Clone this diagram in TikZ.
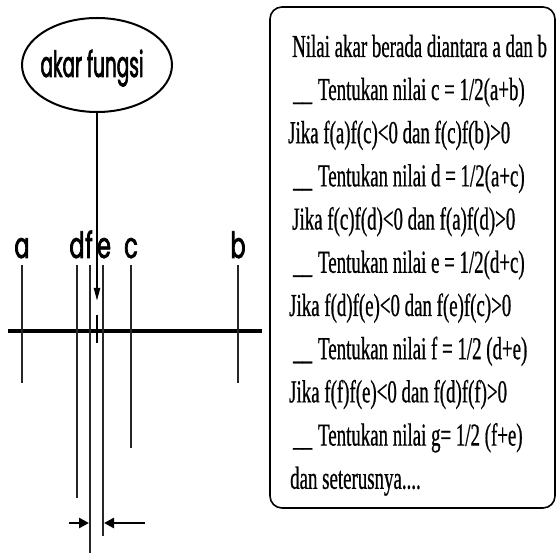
\documentclass[tikz,border=0pt]{standalone}
\usepackage{fontspec}
\usetikzlibrary{arrows.meta,shapes.geometric}
\newfontfamily\boxfont[FakeStretch=0.59,FakeBold=0.6]{Liberation Serif}
\newfontfamily\labfont[FakeStretch=0.62,FakeBold=2]{Poppins}
\begin{document}
\begin{tikzpicture}[x=1pt,y=-1pt,
  lab/.style={inner sep=0pt,anchor=base,font=\labfont\fontsize{36}{36}\selectfont},
  txt/.style={inner sep=0pt,anchor=base west,font=\boxfont\fontsize{32}{32}\selectfont},
  thin line/.style={line width=1.2pt,black!85},
  bigarrow/.style={line width=2.8pt,-{Triangle[length=10pt,width=10pt]}}]
\useasboundingbox (0,0) rectangle (558,553);
% ellipse
\node[draw,ellipse,line width=2pt,minimum width=150,minimum height=94,inner sep=0pt] (root) at (97,65) {};
\node[lab,anchor=base] (roottext) at (92,77) {\resizebox{103pt}{\height}{\labfont\fontsize{36}{36}\selectfont akar fungsi}};
\coordinate (tip) at (97,301);
\draw[line width=2pt,-{Triangle[length=13pt,width=6pt]}] (root.south) -- (tip);
% axis
\coordinate (axL) at (8,331);
\coordinate (axR) at (262,331);
\draw[line width=4pt] (axL) -- (axR);
\coordinate (mk1) at (97,315);
\coordinate (mk2) at (97,343);
\draw[line width=2.6pt] (mk1) -- (mk2);
% labels
\node[lab] (la) at (22,258) {a};
\node[lab] (ld) at (77,258) {d};
\node[lab] (lf) at (89,258) {f};
\node[lab] (le) at (104,258) {e};
\node[lab] (lc) at (131,258) {c};
\node[lab] (lb) at (238,258) {b};
% vertical lines
\coordinate (a1) at (22,265);  \coordinate (a2) at (22,383);
\coordinate (b1) at (238,265); \coordinate (b2) at (238,383);
\coordinate (c1) at (131,265); \coordinate (c2) at (131,448);
\coordinate (d1) at (77,265);  \coordinate (d2) at (77,498);
\coordinate (f1) at (90,265);  \coordinate (f2) at (90,553);
\coordinate (e1) at (103,265); \coordinate (e2) at (103,536);
\draw[thin line] (a1) -- (a2);
\draw[thin line] (b1) -- (b2);
\draw[thin line] (c1) -- (c2);
\draw[thin line] (d1) -- (d2);
\draw[thin line] (f1) -- (f2);
\draw[thin line] (e1) -- (e2);
% bottom arrows
\coordinate (l0) at (69,523);  \coordinate (l1) at (89,523);
\coordinate (r0) at (145,523); \coordinate (r1) at (104,523);
\draw[bigarrow] (l0) -- (l1);
\draw[bigarrow] (r0) -- (r1);
% box
\node[draw,line width=1.6pt,rounded corners=12pt,minimum width=285,minimum height=501,inner sep=0pt] (box) at (412.5,257.5) {};
\node[txt] (t1) at (292,57) {Nilai akar berada diantara a dan b};
\node[txt] (t2) at (293,100) {\_\_\hspace{6pt}Tentukan nilai c = 1/2(a+b)};
\node[txt] (t3) at (288,143.2) {Jika f(a)f(c)<0 dan f(c)f(b)>0};
\node[txt] (t4) at (293,186.4) {\_\_\hspace{6pt}Tentukan nilai d = 1/2(a+c)};
\node[txt] (t5) at (292,229.6) {Jika f(c)f(d)<0 dan f(a)f(d)>0};
\node[txt] (t6) at (293,272.8) {\_\_\hspace{6pt}Tentukan nilai e = 1/2(d+c)};
\node[txt] (t7) at (289,316) {Jika f(d)f(e)<0 dan f(e)f(c)>0};
\node[txt] (t8) at (293,359.2) {\_\_\hspace{6pt}Tentukan nilai f = 1/2 (d+e)};
\node[txt] (t9) at (289,402.4) {Jika f(f)f(e)<0 dan f(d)f(f)>0};
\node[txt] (t10) at (293,445.6) {\_\_\hspace{6pt}Tentukan nilai g= 1/2 (f+e)};
\node[txt] (t11) at (290,488.8) {dan seterusnya....};
\end{tikzpicture}
\end{document}
